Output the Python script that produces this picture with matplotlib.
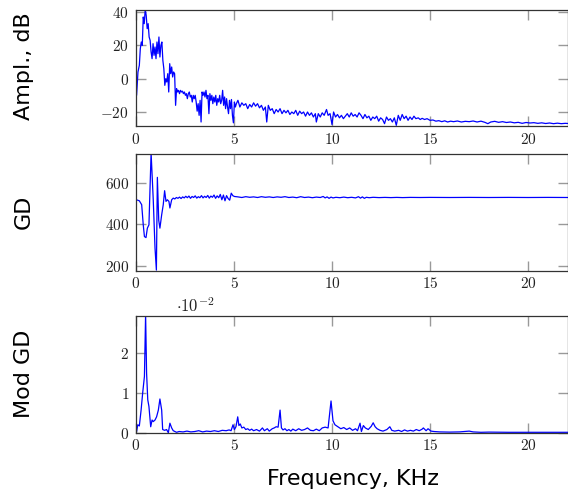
import numpy as np
import matplotlib
matplotlib.use("Agg")
import matplotlib.pyplot as plt
from matplotlib.ticker import FuncFormatter

plt.rcParams['mathtext.fontset'] = 'cm'
plt.rcParams['font.family'] = 'DejaVu Sans'

# --- amplitude spectrum, dB ---
ampl_f = [0, 0.03, 0.1, 0.17, 0.22, 0.27, 0.32, 0.37, 0.42, 0.47, 0.52, 0.57, 0.62, 0.67, 0.72,
          0.77, 0.82, 0.87, 0.92, 0.97, 1.02, 1.07, 1.12, 1.17, 1.22, 1.27, 1.32, 1.37, 1.42, 1.47,
          1.52, 1.57, 1.62, 1.67, 1.72, 1.77, 1.82, 1.87, 1.92, 1.97, 2.02, 2.07, 2.12, 2.17, 2.22,
          2.27, 2.32, 2.37, 2.42, 2.47, 2.52, 2.57, 2.62, 2.67, 2.72, 2.77, 2.82, 2.87, 2.92, 2.97,
          3.02, 3.07, 3.12, 3.17, 3.22, 3.27, 3.32, 3.37, 3.42, 3.47, 3.52, 3.57, 3.62, 3.67, 3.72,
          3.77, 3.82, 3.87, 3.92, 3.97, 4.02, 4.07, 4.12, 4.17, 4.22, 4.27, 4.32, 4.37, 4.42, 4.47,
          4.52, 4.57, 4.62, 4.67, 4.72, 4.77, 4.82, 4.87, 4.92, 4.97, 5.02, 5.07, 5.12,
          5.2, 5.3, 5.4, 5.5, 5.6, 5.7, 5.8, 5.9, 6.0, 6.1, 6.2, 6.3, 6.4, 6.5, 6.6, 6.67, 6.75,
          6.85, 6.95, 7.05, 7.15, 7.25, 7.35, 7.45, 7.55, 7.65, 7.75, 7.85, 7.95, 8.05, 8.15, 8.25,
          8.35, 8.45, 8.55, 8.65, 8.75, 8.85, 8.95, 9.05, 9.15, 9.2, 9.3, 9.4, 9.5, 9.6, 9.72, 9.8,
          9.9, 10.0, 10.08, 10.18, 10.28, 10.38, 10.48, 10.58, 10.68,
          10.78, 10.88, 10.98, 11.08, 11.18, 11.28, 11.38, 11.48, 11.58, 11.68, 11.78, 11.88, 11.98,
          12.08, 12.18, 12.28, 12.38, 12.48, 12.58, 12.68, 12.78, 12.88, 12.98, 13.08, 13.18, 13.28,
          13.38, 13.48, 13.58, 13.68, 13.78, 13.88, 13.98, 14.08, 14.18, 14.28, 14.4, 14.5, 14.6,
          14.72, 14.85, 15.0, 15.15, 15.3, 15.45, 15.6, 15.75, 15.9, 16.05, 16.2, 16.4, 16.6, 16.8,
          17.0, 17.2, 17.4, 17.6, 17.8, 17.95, 18.1, 18.3, 18.5, 18.7, 18.9, 19.1, 19.3, 19.5, 19.7,
          19.9, 20.1, 20.3, 20.5, 20.7, 20.9, 21.1, 21.3, 21.5, 21.7, 21.9, 22.05]
ampl_db = [-1, -10, 4, 8, 18, 22, 20, 37, 33, 41.5, 38, 30, 33, 25, 23,
           16, 12, 21, 14, 19, 12, 22, 15, 25, 13, 20, 22, 11, 6, -4,
           0, -2, 3, -8, 9, 3, 7, 1, 4, 3, -16, -6, -8, -7, -9,
           -7, -8, -7.5, -9, -8, -10, -9, -12, -9, -8, -11, -10, -14, -10, -12,
           -10, -14, -19.5, -15, -22, -13, -26, -8, -10, -8, -11, -7, -12, -10, -21,
           -9, -13, -10, -15, -11, -14, -10, -16, -12, -14, -10, -15, -13, -7, -16,
           -11, -18, -12, -17, -21, -13, -18, -12.5, -22, -26.5, -14, -17, -15,
           -13, -17, -14.5, -16, -15, -18, -15.5, -17, -14.5, -16.5, -15, -17.5, -16, -19, -17, -26, -16,
           -19, -18, -21, -18.5, -20, -18, -21, -19, -20.5, -19, -21.5, -20, -21, -19, -22,
           -19.5, -21, -20, -22.5, -20, -22, -20.5, -23, -21, -26, -21, -23, -20.5, -22, -18.5, -22,
           -21, -27.5, -20, -23, -21.5, -23.5, -22, -24, -22.5,
           -21, -23, -20.5, -22.5, -21.5, -23, -20.5, -22, -24, -21.5, -23.5, -22.5, -25,
           -23, -24, -22.5, -25.5, -23.5, -24.5, -27, -23, -25, -24, -26, -23.5, -28,
           -22, -25, -21.5, -24, -22.5, -25, -23, -24.5, -22.5, -24, -23.5, -24.5, -23.8,
           -24.5, -24, -25, -24.8, -25.5, -25.2, -25.8, -25.3, -26, -25.5, -25.8, -25.4, -26, -25.6,
           -25.8, -25.4, -26, -25.5, -26.2, -27, -26, -25.6, -26.2, -25.8, -26.3, -26, -26.5, -26.2, -26.8,
           -26.3, -26.6, -26.4, -26.8, -26.5, -26.9, -26.6, -27, -26.7, -27, -26.8, -26.9]

# --- group delay ---
gd_f = [0, 0.05, 0.17, 0.29, 0.37, 0.43, 0.51, 0.58, 0.66, 0.77, 0.88, 0.97, 1.04, 1.09, 1.16,
        1.22, 1.31, 1.39, 1.46, 1.53, 1.6, 1.68, 1.73, 1.82, 1.9, 1.98, 2.06, 2.14, 2.22, 2.3,
        2.38, 2.46, 2.54, 2.62, 2.7, 2.78, 2.86, 2.94, 3.02, 3.1, 3.18, 3.26, 3.34, 3.42, 3.5,
        3.58, 3.66, 3.74, 3.82, 3.9, 3.98, 4.06, 4.14, 4.22, 4.3, 4.38, 4.46, 4.54, 4.62, 4.7,
        4.78, 4.86, 4.94, 5.02, 5.2, 5.4, 5.6, 5.8, 6.0, 6.2, 6.4, 6.6, 6.8, 7.0, 7.2, 7.4, 7.6,
        7.8, 8.0, 8.2, 8.4, 8.6, 8.8, 9.0, 9.2, 9.4, 9.55, 9.65, 9.75, 9.85, 9.95, 10.05, 10.2,
        10.4, 10.6, 10.8, 11.0, 11.2, 11.35, 11.45, 11.55, 11.65, 11.75, 11.9, 12.1, 12.4, 12.7,
        13.0, 13.3, 13.6, 14.0, 14.5, 15, 16, 17, 18, 19, 20, 21, 22.05]
gd_val = [520, 519, 515, 496, 398, 341, 336, 382, 398, 748, 520, 285, 178, 629, 420,
          382, 447, 496, 564, 512, 520, 512, 480, 520, 528, 524, 531, 527, 533, 526,
          534, 529, 537, 530, 538, 527, 536, 531, 539, 528, 535, 530, 540, 529, 537,
          531, 541, 528, 538, 532, 543, 527, 539, 530, 546, 520, 543, 515, 540, 526,
          518, 552, 540, 536, 534, 531, 535, 532, 534, 531, 535, 532, 534, 531, 534, 532, 535,
          531, 533, 530, 535, 531, 533, 530, 533, 531, 536, 529, 534, 527, 533, 529, 532,
          530, 533, 530, 532, 529, 535, 528, 534, 527, 532, 530, 532, 530.5, 531.5,
          530.5, 531.5, 530.5, 531.5, 531, 531.5, 531, 531.5, 531, 531.5, 531, 531.5, 531]

# --- modulus of group delay, x 1e-2 ---
mod_f = [0, 0.03, 0.09, 0.17, 0.26, 0.34, 0.43, 0.49, 0.54, 0.6, 0.66, 0.75, 0.82, 0.88, 0.97,
         1.05, 1.14, 1.22, 1.31, 1.36, 1.46, 1.56, 1.65, 1.73, 1.82, 1.9, 2.07, 2.2, 2.4, 2.6,
         2.8, 3.0, 3.2, 3.4, 3.6, 3.8, 4.0, 4.2, 4.4, 4.6, 4.75, 4.85, 4.95, 5.02, 5.1, 5.19,
         5.25, 5.32, 5.4, 5.5, 5.6, 5.7, 5.8, 5.9, 6.0, 6.15, 6.3, 6.45, 6.55, 6.7, 6.8, 6.95,
         7.05, 7.15, 7.25, 7.35, 7.42, 7.5, 7.6, 7.7, 7.8, 7.9, 8.0, 8.15, 8.3, 8.45, 8.6, 8.75,
         8.9, 9.05, 9.2, 9.35, 9.5, 9.65, 9.8, 9.95, 10.05, 10.15, 10.3, 10.45, 10.6, 10.75, 10.9,
         11.05, 11.2, 11.3, 11.43, 11.5, 11.6, 11.7, 11.85, 12.0, 12.1, 12.2, 12.3, 12.45, 12.6,
         12.7, 12.8, 12.95, 13.05, 13.2, 13.4, 13.55, 13.7, 13.85, 14.0, 14.15, 14.3, 14.45, 14.6,
         14.66, 14.8, 14.9, 15.05, 15.2, 15.5, 16, 16.5, 17.0, 17.2, 17.6, 18, 19, 20, 21, 22.05]
mod_val = [0.03, 0.03, 0.2, 0.17, 0.57, 1.0, 1.42, 2.98, 1.5, 0.83, 0.66, 0.15, 0.32, 0.28, 0.32,
           0.4, 0.57, 0.85, 0.57, 0.08, 0.06, 0.08, 0.0, 0.24, 0.12, 0.05, 0.01, 0.03, 0.02, 0.04,
           0.02, 0.03, 0.05, 0.02, 0.04, 0.03, 0.05, 0.03, 0.06, 0.05, 0.07, 0.05, 0.2, 0.08, 0.15, 0.4,
           0.18, 0.22, 0.12, 0.14, 0.08, 0.1, 0.06, 0.09, 0.05, 0.08, 0.04, 0.12, 0.05, 0.1, 0.04, 0.1,
           0.12, 0.15, 0.14, 0.57, 0.12, 0.07, 0.1, 0.05, 0.08, 0.04, 0.09, 0.05, 0.1, 0.06, 0.08, 0.12,
           0.06, 0.05, 0.09, 0.05, 0.12, 0.14, 0.12, 0.8, 0.3, 0.2, 0.15, 0.1, 0.13, 0.08, 0.12,
           0.06, 0.1, 0.05, 0.24, 0.03, 0.18, 0.12, 0.08, 0.16, 0.25, 0.15, 0.1, 0.06, 0.04,
           0.06, 0.08, 0.15, 0.06, 0.04, 0.06, 0.03, 0.07, 0.04, 0.06, 0.04, 0.08, 0.05, 0.09,
           0.12, 0.05, 0.1, 0.04, 0.03, 0.02, 0.015, 0.02, 0.04, 0.02, 0.01, 0.015, 0.01, 0.01, 0.008, 0.01]

W, H = 568, 493
fig = plt.figure(figsize=(W / 100, H / 100), dpi=100)

left = 136 / W
width = (568.2 - 136) / W
boxes = [(9.5, 126), (153.5, 270.7), (315.7, 432.7)]
axes = []
for top, bot in boxes:
    axes.append(fig.add_axes([left, 1 - bot / H, width, (bot - top) / H]))

series = [(ampl_f, ampl_db, (-28.4, 41.5), [-20, 0, 20, 40]),
          (gd_f, gd_val, (175, 745), [200, 400, 600]),
          (mod_f, mod_val, (0, 2.95), [0, 1, 2])]

fmt = FuncFormatter(lambda v, p: r'$%g$' % v)
for ax, (f, v, yl, yt) in zip(axes, series):
    ax.plot(f, v, color='#0000ff', lw=0.9)
    ax.set_xlim(0, 22.05)
    ax.set_ylim(*yl)
    ax.set_xticks([0, 5, 10, 15, 20])
    ax.set_yticks(yt)
    ax.xaxis.set_major_formatter(fmt)
    ax.yaxis.set_major_formatter(fmt)
    ax.tick_params(direction='in', top=True, right=True, length=7, width=1.0,
                   color='#999999', labelsize=11, labelcolor='#222222')
    ax.tick_params(axis='x', pad=4)
    ax.tick_params(axis='y', pad=5)
    for s in ax.spines.values():
        s.set_color('#333333')
        s.set_linewidth(0.9)

axes[2].text(0.137, 1.075, r'$\cdot 10^{-2}$', transform=axes[2].transAxes,
             ha='center', va='center', fontsize=12, color='#222222')

for label, ymid in [("Ampl., dB", 66), ("GD", 212), ("Mod GD", 374)]:
    fig.text(24 / W, 1 - ymid / H, label, rotation=90, ha='center', va='center', fontsize=16)
fig.text(353 / W, 1 - 479 / H, "Frequency, KHz", ha='center', va='center', fontsize=16)

fig.savefig("out.png", dpi=100)
